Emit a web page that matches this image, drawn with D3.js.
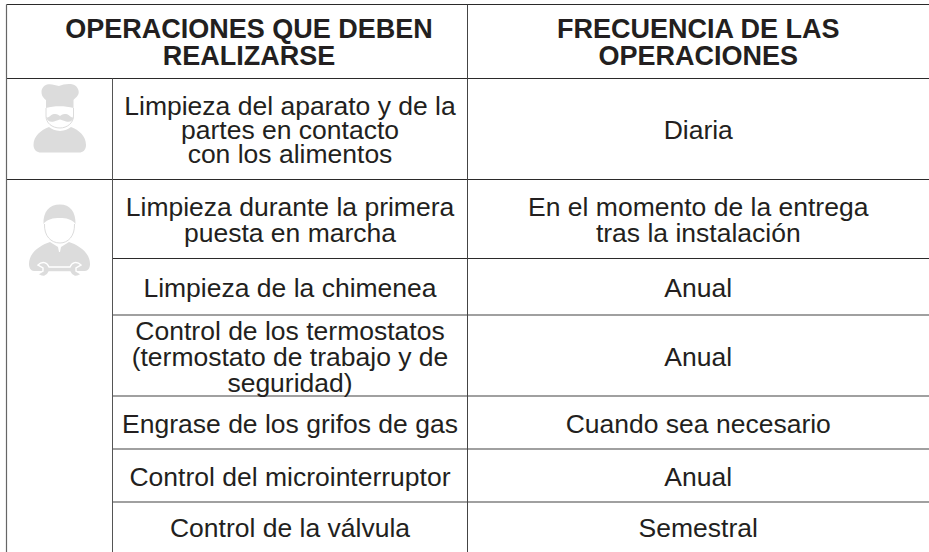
<!DOCTYPE html>
<html>
<head>
<meta charset="utf-8">
<script src="https://d3js.org/d3.v7.min.js"></script>
<style>
body { margin: 0; background: #fff; }
text { font-family: "Liberation Sans", sans-serif; fill: #231f20; text-anchor: middle; }
.head { font-weight: bold; font-size: 27px; }
.cell { font-size: 26.5px; }
</style>
</head>
<body>
<svg id="tabla" width="929" height="552"></svg>
<script>
var headers = [["OPERACIONES QUE DEBEN", "REALIZARSE"], ["FRECUENCIA DE LAS", "OPERACIONES"]];
var operaciones = [
  ["Limpieza del aparato y de la", "partes en contacto", "con los alimentos"],
  ["Limpieza durante la primera", "puesta en marcha"],
  ["Limpieza de la chimenea"],
  ["Control de los termostatos", "(termostato de trabajo y de", "seguridad)"],
  ["Engrase de los grifos de gas"],
  ["Control del microinterruptor"],
  ["Control de la válvula"]
];
var frecuencias = [
  ["Diaria"],
  ["En el momento de la entrega", "tras la instalación"],
  ["Anual"],
  ["Anual"],
  ["Cuando sea necesario"],
  ["Anual"],
  ["Semestral"]
];

var svg = d3.select("#tabla");

// y of every row edge, header first
var y = d3.scaleOrdinal().domain(d3.range(9)).range([4.5, 78.5, 179.5, 258.5, 315, 396, 449, 502, 552]);
var colX = d3.scaleOrdinal().domain(["left", "icon", "op", "end"]).range([6.5, 112.5, 467.5, 929]);
// first row is set tighter than the others
var lineH = function(i) { return i == 0 ? 24 : 26; };

function lines(x1, y1, x2, y2, col, w) {
  svg.append("line").attr("x1", x1).attr("y1", y1).attr("x2", x2).attr("y2", y2)
    .attr("stroke", col).attr("stroke-width", w);
}

// horizontal rules
lines(colX("left"), y(0), colX("end"), y(0), "#2b2a2a", 1.2);
lines(colX("left"), y(1), colX("end"), y(1), "#2b2a2a", 1);
lines(colX("left"), y(2), colX("end"), y(2), "#2b2a2a", 1);
lines(colX("icon"), y(3), colX("end"), y(3), "#2b2a2a", 1);
[4, 5, 6, 7].forEach(function(i) {
  lines(colX("icon"), y(i), colX("end"), y(i), "#808080", 1.3);
});
// vertical rules
lines(colX("left"), y(0), colX("left"), 552, "#666", 1.2);
lines(colX("icon"), y(1), colX("icon"), 552, "#555", 1);
lines(colX("op"), y(0), colX("op"), 552, "#444", 1);

function cellText(lns, cx, top, bottom, cls, lh) {
  var mid = (top + bottom) / 2;
  svg.append("g").selectAll("text").data(lns).enter().append("text")
    .attr("class", cls)
    .attr("x", cx)
    .attr("y", function(d, i) { return mid + (i - (lns.length - 1) / 2) * lh + 10; })
    .text(function(d) { return d; });
}

var opMid = (colX("icon") + colX("op")) / 2, freqMid = (colX("op") + colX("end")) / 2;
cellText(headers[0], 249, y(0), y(1), "head", 27.5);
cellText(headers[1], freqMid, y(0), y(1), "head", 27.5);
operaciones.forEach(function(d, i) { cellText(d, opMid, y(i + 1), y(i + 2), "cell", lineH(i)); });
frecuencias.forEach(function(d, i) { cellText(d, freqMid, y(i + 1), y(i + 2), "cell", lineH(i)); });

// icons
var gris = "#dcdcdc";
var chef = svg.append("g");
chef.append("path").attr("fill", gris)
  .attr("d", "M47,84.5 C51,83.5 55,85 59,86 C63,84.5 68,83.5 73,84.5 C78,86 80,92 78,95 C76,98 74,99 73.5,100 L73.5,108 C65,105.5 54,105.5 46,108 L46,100 C44,98.5 41.5,96 41.5,92 C41.5,88 44,85.5 47,84.5 Z");
chef.append("path").attr("fill", "none").attr("stroke", gris).attr("stroke-width", 1)
  .attr("d", "M46,108 L46,116 C46,123 52,128 60,128 C67,128 73.5,123 73.5,116 L73.5,108");
chef.append("path").attr("fill", gris)
  .attr("d", "M46,117 C49,119 50,114.5 54,114 C57,113.5 59,115 60,116 C61,115 63,113.5 66,114 C70,114.5 71,119 74,117 C73,121 70,122.5 66,121.5 C63,120.5 61,119.5 60,119.5 C59,119.5 57,120.5 54,121.5 C50,122.5 47,121 46,117 Z");
chef.append("path").attr("fill", gris)
  .attr("d", "M49,127 C52,129.5 55,130.5 60,131 C65,130.5 68,129.5 71,127 C79,130 86,136 86,145 C86,150 83,152.5 79,152.5 L41,152.5 C37,152.5 33.5,150 33.5,145 C33.5,136 41,130 49,127 Z");

var meca = svg.append("g");
meca.append("path").attr("fill", gris)
  .attr("d", "M43.5,224 C43,212 49,204.5 60,204.5 C70,204.5 76,212 75.5,224 C72,219 66,218 60,218 C53,218 47,219 43.5,224 Z");
meca.append("path").attr("fill", "none").attr("stroke", gris).attr("stroke-width", 1)
  .attr("d", "M44.5,224 C44,236 51,243 60,243 C68,243 75,236 74.5,224");
meca.append("path").attr("fill", gris)
  .attr("d", "M50,242 L58,247 L59,252 L60,252 L61,247 L69,242 C78,245 90,252 90,264 C90,268 88,271 85,271 L80,271 L38,271 L34,271 C31,271 29,268 29,264 C29,252 41,245 50,242 Z");
meca.append("path").attr("fill", gris).attr("stroke", "#fff").attr("stroke-width", 1.4)
  .attr("d", "M38,265 C42,261 47,262 49,267 L70,267 C72,262 77,261 81,265 L76,268 L76,271 L81,274 C77,278 72,277 70,272 L49,272 C47,277 42,278 38,274 L43,271 L43,268 Z");
</script>
</body>
</html>
